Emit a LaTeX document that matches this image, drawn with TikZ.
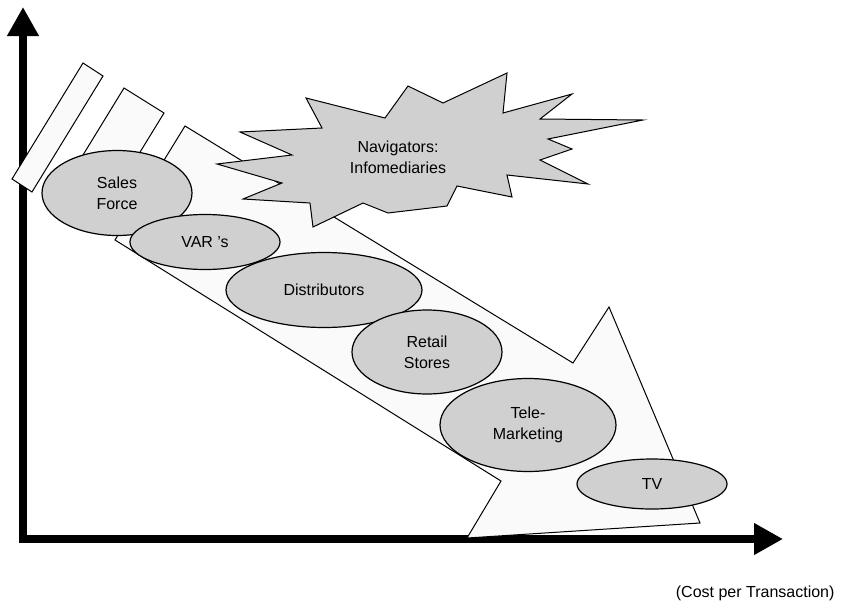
\documentclass[tikz,border=0pt]{standalone}
\usepackage{fontspec}
\setmainfont{Liberation Sans}
\usetikzlibrary{arrows.meta, shapes.geometric}
\definecolor{ovalgrau}{RGB}{208,208,208}
\definecolor{pfeilweiss}{RGB}{250,250,250}

\begin{document}
\begin{tikzpicture}[x=1pt, y=-1pt,
	oval/.style={draw, ellipse, fill=ovalgrau, line width=1.2pt, inner sep=0pt, align=center},
	band/.style={draw, fill=pfeilweiss, line width=1pt, line join=miter},
	achse/.style={line width=7.5pt, line join=miter, {Triangle[length=29pt,width=30pt]}-{Triangle[length=29pt,width=30pt]}},
	font=\fontsize{16}{21}\selectfont]
	%Bildbereich
	\useasboundingbox (0,0) rectangle (843,608);
	% Achsen zeichnen
	\coordinate (ursprung) at (23,539);
	\coordinate (yspitze) at (23,7);
	\coordinate (xspitze) at (783,539);
	\draw[achse] (yspitze) -- (ursprung) -- (xspitze);
	% Streifen am Pfeilende
	\draw[band] (83,63) -- (103,76) -- (32,192) -- (12,179) -- cycle;
	\draw[band] (124,88) -- (164,113) -- (93,229) -- (53,204) -- cycle;
	% Pfeil
	\draw[band] (185,126) -- (573,363) -- (609,307) -- (700,523) -- (467,538)
		-- (501,481) -- (115,240) -- cycle;
	% Stern
	\draw[band, fill=ovalgrau] (217,164) -- (282,183) -- (243,199) -- (310,203) -- (313,227)
		-- (363,203) -- (388,213) -- (447,206) -- (457,186) -- (512,197) -- (507,175)
		-- (588,184) -- (540,160) -- (572,149) -- (548,139) -- (643,120) -- (540,119)
		-- (572,94) -- (503,113) -- (507,73) -- (443,103) -- (408,86) -- (385,118)
		-- (306,98) -- (322,128) -- (240,132) -- (292,155) -- cycle;
	\node[align=center] (navi) at (398,157) {Navigators:\\Infomediaries};
	% Vertriebswege
	\node[oval, minimum width=150pt, minimum height=85pt] (sales) at (117,193) {Sales\\Force};
	\node[oval, minimum width=150pt, minimum height=55pt] (vars) at (205,242) {VAR 's};
	\node[oval, minimum width=196pt, minimum height=75pt] (distr) at (324,290) {Distributors};
	\node[oval, minimum width=150pt, minimum height=84pt] (retail) at (427,352) {Retail\\Stores};
	\node[oval, minimum width=176pt, minimum height=93pt] (tele) at (528,425) {Tele-\\Marketing};
	\node[oval, minimum width=150pt, minimum height=50pt] (tv) at (652,484) {TV};
	% Beschriftung
	\node[anchor=east] (kosten) at (838,593) {(Cost per Transaction)};
\end{tikzpicture}
\end{document}
